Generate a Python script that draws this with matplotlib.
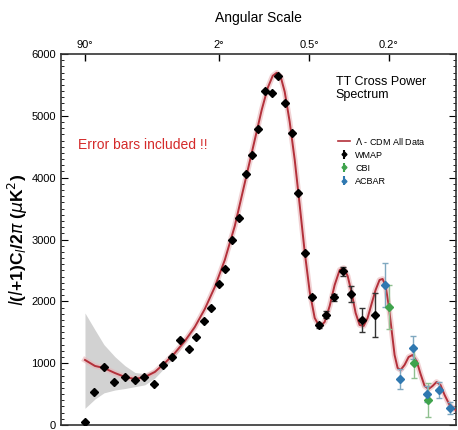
import numpy as np
import matplotlib
matplotlib.use('Agg')
import matplotlib.pyplot as plt
from matplotlib.lines import Line2D

plt.rcParams['font.family'] = ['Liberation Sans', 'DejaVu Sans']

# Lambda-CDM best fit curve (multipole l, l(l+1)Cl/2pi in uK^2)
model_l = [2.0, 3.13, 4.51, 6.75, 9.45, 12.87, 17.16, 22.42, 28.83, 36.53, 45.7, 56.4,
           68.97, 83.5, 100.2, 119.3, 141.0, 165.5, 184.4, 202.0, 217.5, 230.6, 244.2,
           258.5, 277.1, 296.9, 317.4, 339.3, 362.3, 386.2, 411.5, 437.7, 465.5, 494.2,
           524.7, 549.7, 575.6, 602.8, 630.5, 659.2, 689.4, 720.0, 751.6, 784.9, 818.6,
           845.3, 871.9, 899.8, 927.8, 956.4, 986.3, 1016, 1057, 1100, 1143, 1189, 1235,
           1283, 1332, 1382, 1434, 1487, 1543, 1613, 1701]
model_D = [1052, 955, 922, 841, 777, 744, 777, 858, 1003, 1165, 1359, 1586,
           1877, 2233, 2670, 3220, 3916, 4612, 5097, 5453, 5647, 5696, 5631,
           5388, 4903, 4288, 3560, 2799, 2152, 1731, 1586, 1667, 1926, 2265,
           2508, 2540, 2411, 2136, 1812, 1618, 1602, 1731, 1958, 2184, 2346,
           2362, 2249, 1942, 1537, 1133, 922, 890, 971, 1100, 1133, 1036, 825,
           631, 583, 631, 696, 647, 485, 324, 243]

# cosmic variance band at low l (first 12 model points)
band_lo = [270, 420, 520, 566, 590, 620, 650, 760, 930, 1110, 1320, 1560]
band_hi = [1812, 1540, 1300, 1105, 960, 850, 830, 900, 1040, 1195, 1385, 1605]

# WMAP binned points
wmap_l = [2.0, 3.0, 4.56, 6.5, 9.45, 13.0, 16.8, 22.0, 27.7, 34.1, 40.9, 49.4, 57.6,
          67.2, 77.8, 89.4, 100.7, 113.3, 127.6, 143.3, 157.8, 175.4, 195.2, 216.6,
          236.4, 259.6, 286.2, 310.3, 339.3, 373, 407.8, 447, 490, 543, 600.8, 674, 777]
wmap_D = [44, 539, 943, 700, 772, 728, 782, 658, 971, 1105, 1370, 1235, 1419,
          1678, 1898, 2277, 2519, 2994, 3354, 4057, 4364, 4785, 5405, 5367,
          5652, 5215, 4730, 3749, 2788, 2076, 1613, 1785, 2066, 2487, 2115, 1699, 1780]
wmap_err = [0] * 29 + [30, 40, 60, 60, 75, 130, 200, 350]

# CBI
cbi_l = [900, 1155, 1330]
cbi_D = [1914, 998, 405]
cbi_err = [356, 240, 270]

# ACBAR
acbar_l = [863, 1013, 1151, 1316, 1464, 1623]
acbar_D = [2265, 739, 1251, 502, 566, 280]
acbar_err = [350, 160, 190, 125, 127, 100]

angle_l = [2, 90, 360, 900]
angle_labels = ['90°', '2°', '0.5°', '0.2°']


def fwd(x):
    return np.power(np.clip(x, 0, None), 0.25)


def inv(x):
    return np.power(x, 4)


fig = plt.figure(figsize=(4.58, 4.30), dpi=100)
ax = fig.add_axes([0.1325, 0.0116, 0.8632, 0.8628])
ax.set_xscale('function', functions=(fwd, inv))

red = '#b3303a'

ax.fill_between(model_l[:12], band_lo, band_hi, color='#d2d2d2', lw=0, zorder=1)
ax.plot(model_l, model_D, color='#e8b4b8', lw=4, alpha=0.6, zorder=2)
ax.plot(model_l, model_D, color=red, lw=1.4, zorder=3)

ax.errorbar(wmap_l, wmap_D, yerr=wmap_err, fmt='D', color='black', ms=3.6,
            ecolor='#333333', elinewidth=1, capsize=2.5, zorder=5)
ax.errorbar(cbi_l, cbi_D, yerr=cbi_err, fmt='D', color='#3fa34d', ms=3.6,
            ecolor='#8fc08f', elinewidth=1, capsize=2.5, zorder=4)
ax.errorbar(acbar_l, acbar_D, yerr=acbar_err, fmt='D', color='#2f78b0', ms=3.6,
            ecolor='#7fa8c0', elinewidth=1, capsize=2.5, zorder=4)

ax.set_xlim(0.513, 1708)
ax.set_ylim(0, 6000)

ax.set_xticks(angle_l)
ax.set_xticklabels(angle_labels, fontsize=8)
ax.xaxis.set_minor_locator(matplotlib.ticker.NullLocator())
ax.xaxis.set_ticks_position('top')
ax.xaxis.set_label_position('top')
ax.tick_params(axis='x', direction='in', length=5, width=1, pad=3)
ax.set_xlabel('Angular Scale', fontsize=10, labelpad=13)

ax.set_yticks(range(0, 6001, 1000))
ax.yaxis.set_minor_locator(matplotlib.ticker.MultipleLocator(100))
ax.tick_params(axis='y', which='both', direction='in', right=True, labelsize=8)
ax.tick_params(axis='y', which='major', length=5)
ax.tick_params(axis='y', which='minor', length=2.5)
ax.set_ylabel(r'$\mathit{l}$($\mathit{l}$+1)C$_\mathit{l}$/2$\pi$ ($\mu$K$^2$)',
              fontsize=12.5, fontweight='bold', labelpad=1)

for s in ax.spines.values():
    s.set_linewidth(1.2)
    s.set_color('#333333')

ax.text(0.044, 0.745, 'Error bars included !!', transform=ax.transAxes,
        color='#d42a2a', fontsize=10)
ax.text(0.696, 0.94, 'TT Cross Power\nSpectrum', transform=ax.transAxes,
        fontsize=9, va='top', linespacing=1.05)

handles = [
    Line2D([], [], color=red, lw=1.2),
    ax.errorbar([], [], yerr=[], fmt='D', color='black', ms=2.5, capsize=1.5),
    ax.errorbar([], [], yerr=[], fmt='D', color='#3fa34d', ms=2.5, capsize=1.5),
    ax.errorbar([], [], yerr=[], fmt='D', color='#2f78b0', ms=2.5, capsize=1.5),
]
ax.legend(handles, [r'$\Lambda$ - CDM All Data', 'WMAP', 'CBI', 'ACBAR'],
          loc='upper left', bbox_to_anchor=(0.692, 0.79), frameon=False,
          fontsize=6.5, handlelength=1.3, handletextpad=0.6, labelspacing=0.45,
          borderaxespad=0)

fig.savefig('out.png', dpi=100)
